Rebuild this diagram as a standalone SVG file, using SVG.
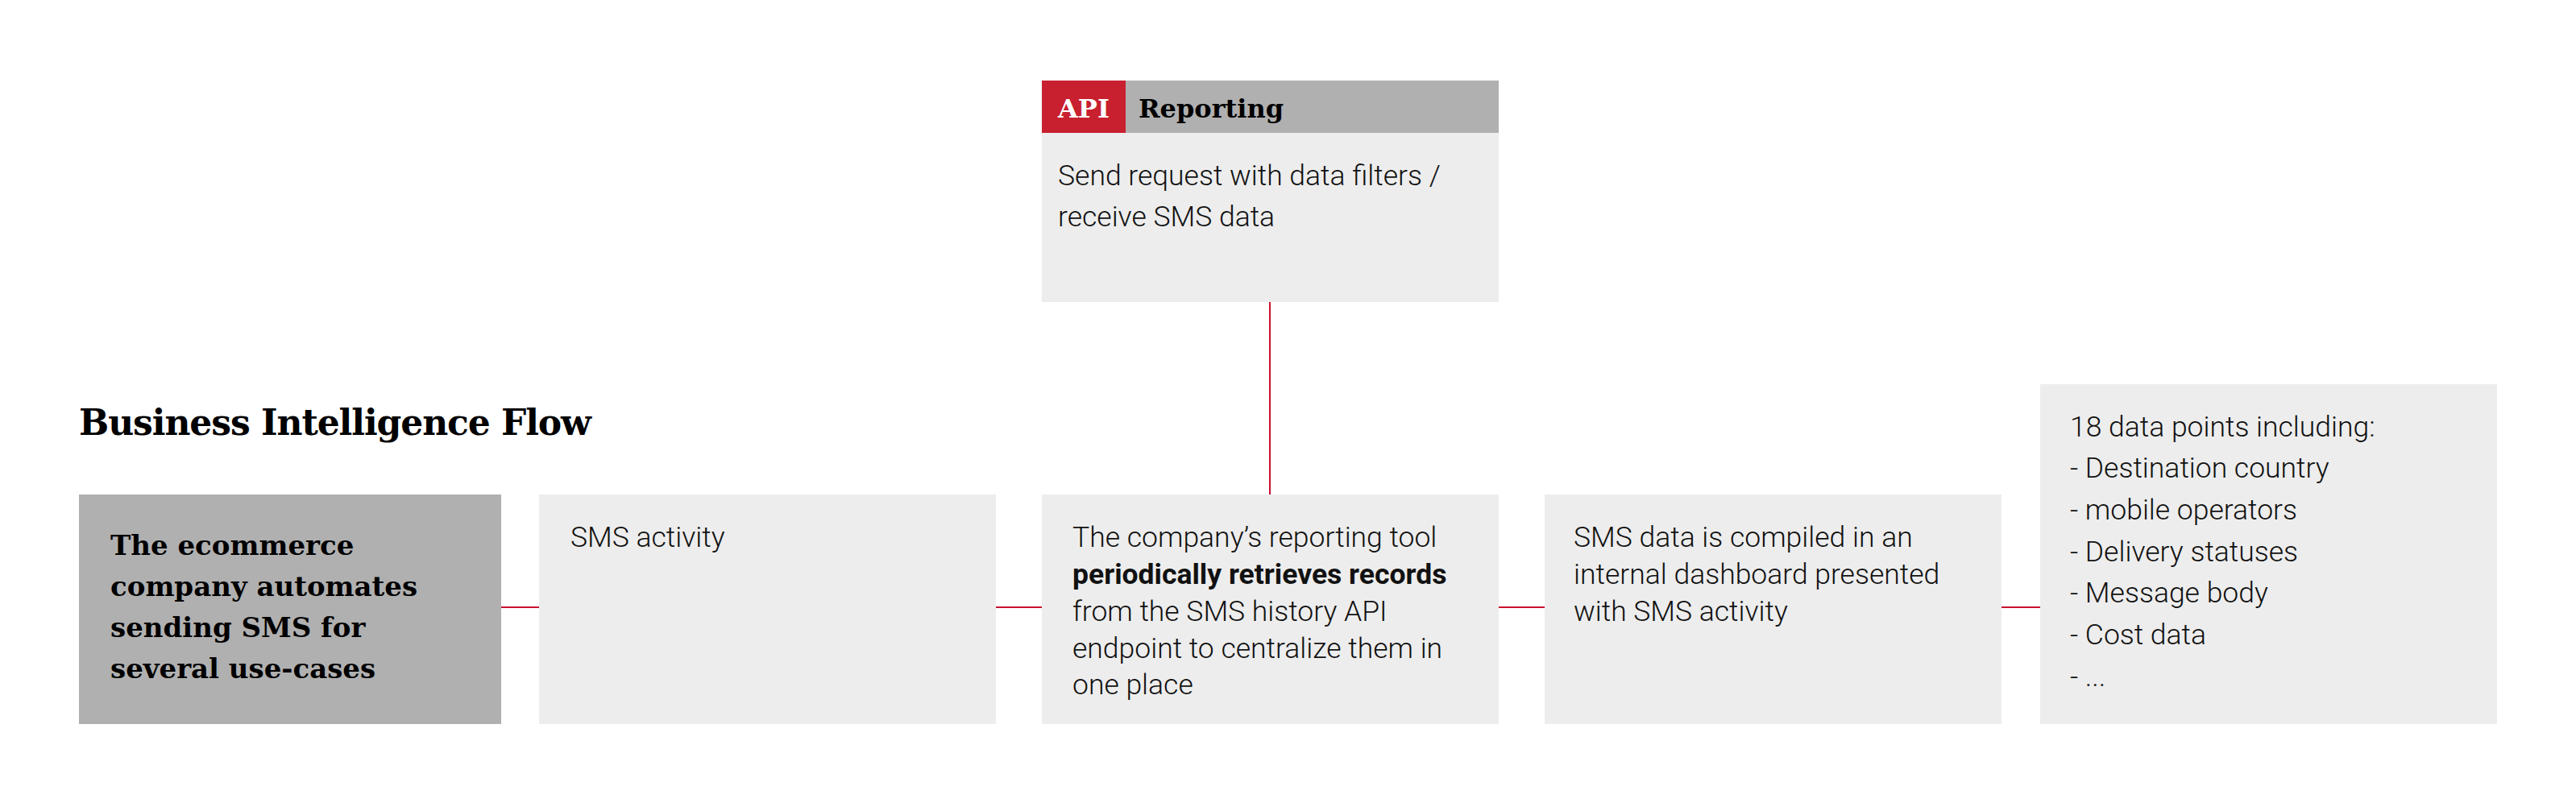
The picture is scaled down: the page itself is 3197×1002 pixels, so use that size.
<svg xmlns="http://www.w3.org/2000/svg" width="3197" height="1002" viewBox="0 0 3197 1002">
<style>
.b{font-family:Roboto,"Liberation Sans",sans-serif;font-weight:300;font-size:35.5px;fill:#111}
.s{font-family:"DejaVu Serif","Liberation Serif",serif;font-weight:bold;fill:#000}
.l{fill:#ededed}
.c{stroke:#c8102e;stroke-width:2;fill:none}
</style>
<rect width="3197" height="1002" fill="#fff"/>
<text class="s" x="98" y="540" font-size="44" textLength="636">Business Intelligence Flow</text>
<g id="connectors">
<path class="c" d="M1576 375V614M622 754H669M1236 754H1293M1860 754H1917M2484 754H2532"/>
</g>
<g id="api">
<rect x="1293" y="100" width="567" height="65" fill="#b0b0b0"/>
<rect x="1293" y="100" width="104" height="65" fill="#c8202f"/>
<text class="s" x="1313" y="146" font-size="32" style="fill:#fff">API</text>
<text class="s" x="1413" y="146" font-size="32">Reporting</text>
<rect class="l" x="1293" y="165" width="567" height="210"/>
<text class="b" x="1313" y="230">Send request with data filters /</text>
<text class="b" x="1313" y="281">receive SMS data</text>
</g>
<g id="n1">
<rect x="98" y="614" width="524" height="285" fill="#b0b0b0"/>
<text class="s" x="137" y="689" font-size="34">The ecommerce</text>
<text class="s" x="137" y="740" font-size="34">company automates</text>
<text class="s" x="137" y="791" font-size="34">sending SMS for</text>
<text class="s" x="137" y="842" font-size="34">several use-cases</text>
</g>
<g id="n2">
<rect class="l" x="669" y="614" width="567" height="285"/>
<text class="b" x="708" y="679">SMS activity</text>
</g>
<g id="n3">
<rect class="l" x="1293" y="614" width="567" height="285"/>
<text class="b" x="1331" y="679">The company’s reporting tool</text>
<text class="b" x="1331" y="725" style="font-weight:bold">periodically retrieves records</text>
<text class="b" x="1331" y="771">from the SMS history API</text>
<text class="b" x="1331" y="817">endpoint to centralize them in</text>
<text class="b" x="1331" y="862">one place</text>
</g>
<g id="n4">
<rect class="l" x="1917" y="614" width="567" height="285"/>
<text class="b" x="1953" y="679">SMS data is compiled in an</text>
<text class="b" x="1953" y="725">internal dashboard presented</text>
<text class="b" x="1953" y="771">with SMS activity</text>
</g>
<g id="n5">
<rect class="l" x="2532" y="477" width="567" height="422"/>
<text class="b" x="2569" y="542">18 data points including:</text>
<text class="b" x="2569" y="593">- Destination country</text>
<text class="b" x="2569" y="645">- mobile operators</text>
<text class="b" x="2569" y="697">- Delivery statuses</text>
<text class="b" x="2569" y="748">- Message body</text>
<text class="b" x="2569" y="800">- Cost data</text>
<text class="b" x="2569" y="852">- ...</text>
</g>
</svg>
